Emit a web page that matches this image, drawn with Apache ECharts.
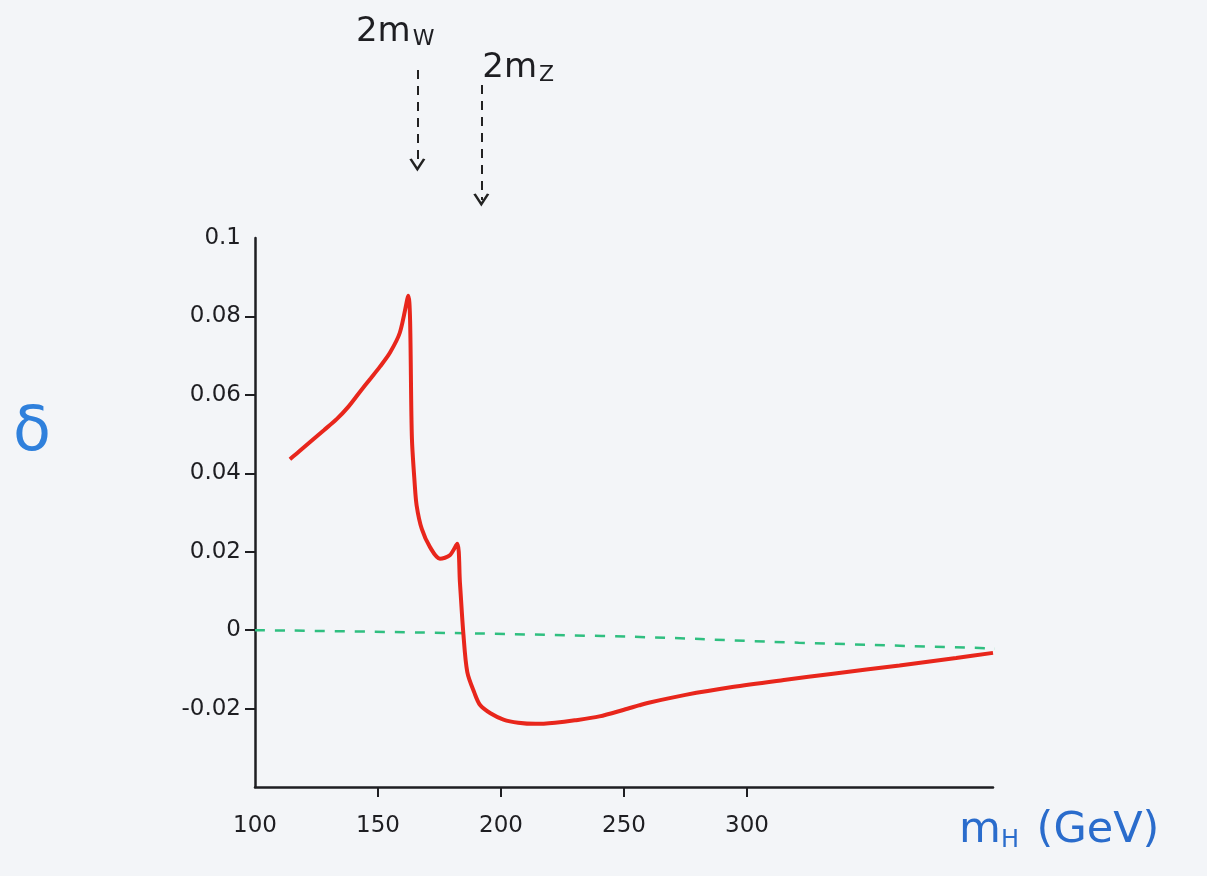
<!DOCTYPE html>
<html>
<head>
<meta charset="utf-8">
<script src="https://cdn.jsdelivr.net/npm/echarts@6/dist/echarts.min.js"></script>
<style>
html,body{margin:0;padding:0;background:#f3f5f8;}
#chart{width:1207px;height:876px;}
</style>
</head>
<body>
<div id="chart"></div>
<script>
// ---- data ----
const deltaX = [114.2, 118, 123.7, 128, 133.2, 138, 142.7, 147, 150.8, 154.9, 158.9, 162.3, 163.8, 164.9, 165.7, 167.8, 171.2, 175.2, 179.2, 182.2, 183.3, 184.7, 186.3, 189.2, 191.5, 195.7, 201, 207, 214, 222, 230, 240, 250, 256, 260, 275, 294, 315, 335, 362, 385, 400];
const deltaY = [0.0436, 0.0456, 0.0487, 0.0510, 0.0538, 0.0570, 0.0608, 0.0642, 0.0672, 0.0708, 0.0759, 0.0853, 0.0487, 0.0375, 0.0318, 0.0258, 0.0211, 0.0182, 0.0191, 0.0220, 0.0122, -0.0009, -0.0107, -0.0160, -0.0191, -0.0212, -0.0228, -0.0236, -0.0239, -0.0236, -0.0230, -0.0220, -0.0203, -0.0192, -0.0185, -0.0165, -0.0145, -0.0127, -0.0111, -0.0090, -0.0071, -0.0058];
const zeroRefX = [100, 241, 321, 409];
const zeroRefY = [0, -0.0015, -0.0032, -0.0048];
const xTickLabels = [100, 150, 200, 250, 300];
const xTickMarks = [150, 200, 250, 300];
const yTickLabels = [-0.02, 0, 0.02, 0.04, 0.06, 0.08, 0.1];
const yTickMarks = [-0.02, 0, 0.02, 0.04, 0.06, 0.08];
const thresholdNames = ['W', 'Z'];
const thresholdX = [166, 192];
const arrowTop = [0.706, 0.643];
const arrowBottom = [0.307, 0.16];
const labelX = [157, 207];
const labelY = [0.866, 0.714];

const chart = echarts.init(document.getElementById('chart'));
const ink = '#1e1e22';
const font = 'DejaVu Sans';

const option = {
  backgroundColor: '#f3f5f8',
  animation: false,
  title: [
    { text: 'δ', left: 8, top: 398, textStyle: { fontFamily: font, fontSize: 62, fontWeight: 'normal', color: '#2f80dc' } },
    { text: '{m|m}{s|H}{m| (GeV)}', left: 954, top: 804,
      textStyle: { fontWeight: 'normal', rich: {
        m: { fontFamily: font, fontSize: 43, fontWeight: 'normal', color: '#2a6ccc' },
        s: { fontFamily: font, fontSize: 24, fontWeight: 'normal', color: '#2a6ccc', padding: [20, 4, 0, 0] }
      } } }
  ],
  grid: [
    { left: 255, right: 214, top: 238, bottom: 89 },
    { left: 255, right: 214, top: 0, height: 238 }
  ],
  xAxis: [
    { type: 'value', gridIndex: 0, min: 100, max: 400,
      splitLine: { show: false },
      axisLine: { show: true, onZero: false, lineStyle: { color: ink, width: 2.5 } },
      axisTick: { show: true, customValues: xTickMarks, length: 10, lineStyle: { color: ink, width: 2 } },
      axisLabel: { customValues: xTickLabels, margin: 28, fontFamily: font, fontSize: 23, color: ink } },
    { type: 'value', gridIndex: 1, min: 100, max: 400, show: false }
  ],
  yAxis: [
    { type: 'value', gridIndex: 0, min: -0.04, max: 0.1,
      splitLine: { show: false },
      axisLine: { show: true, onZero: false, lineStyle: { color: ink, width: 2.5 } },
      axisTick: { show: true, customValues: yTickMarks, length: 10, lineStyle: { color: ink, width: 2 } },
      axisLabel: { customValues: yTickLabels, margin: 14, fontFamily: font, fontSize: 23, color: ink,
        formatter: v => (v === 0 ? '0' : String(v)) } },
    { type: 'value', gridIndex: 1, min: 0, max: 1, show: false }
  ],
  series: [
    { type: 'line', name: 'zero', xAxisIndex: 0, yAxisIndex: 0, clip: false,
      data: zeroRefX.map((x, i) => [x, zeroRefY[i]]),
      showSymbol: false, smooth: true,
      lineStyle: { color: '#2fbf80', width: 2.5, type: [10, 10] } },
    { type: 'line', name: 'delta', xAxisIndex: 0, yAxisIndex: 0,
      data: deltaX.map((x, i) => [x, deltaY[i]]),
      showSymbol: false, smooth: 0.3,
      lineStyle: { color: '#e8261c', width: 4 } },
    { type: 'line', name: 'thresholds', xAxisIndex: 1, yAxisIndex: 1, data: [],
      markLine: {
        silent: true,
        symbol: ['none', 'path://M0,14 L10,0 L20,14 L17,15 L10,5 L3,15 Z'],
        symbolSize: [16, 13],
        label: { show: false },
        lineStyle: { color: '#222', width: 2, type: [9, 7] },
        data: thresholdX.map((x, i) => [{ coord: [x, arrowTop[i]] }, { coord: [x, arrowBottom[i]] }])
      } },
    { type: 'scatter', name: 'thresholdLabels', xAxisIndex: 1, yAxisIndex: 1,
      symbolSize: 0, itemStyle: { opacity: 1 },
      data: thresholdNames.map((n, i) => ({ value: [labelX[i], labelY[i]], name: n })),
      label: { show: true, position: 'inside', opacity: 1,
        formatter: p => '{m|2m}{s|' + p.name + '}',
        rich: {
          m: { fontFamily: font, fontSize: 34, color: ink },
          s: { fontFamily: font, fontSize: 22, color: ink, padding: [14, 0, 0, 2] }
        } } }
  ]
};
chart.setOption(option);
</script>
</body>
</html>
